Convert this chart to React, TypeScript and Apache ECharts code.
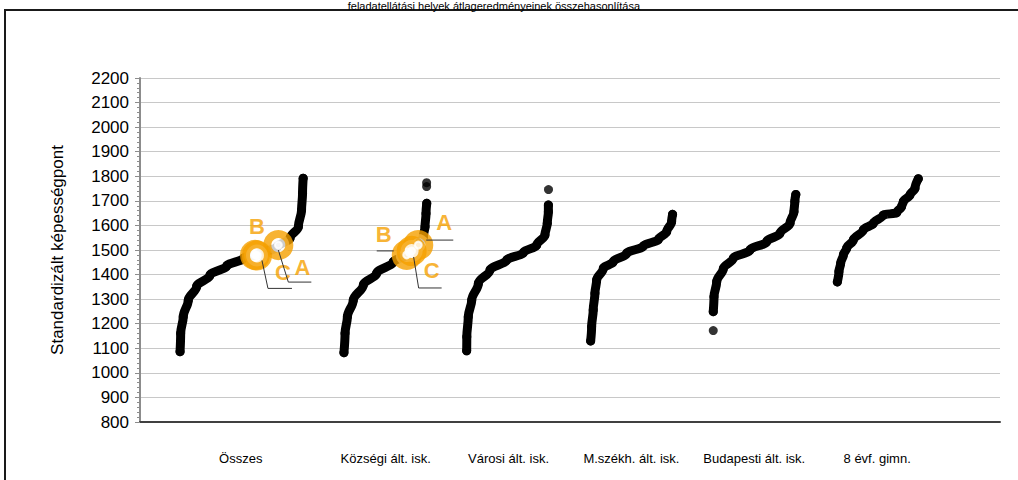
import React, { useEffect, useRef } from "react";
import * as echarts from "echarts";

// ---------- text ----------
const TITLE = "feladatellátási helyek átlageredményeinek összehasonlítása";
const Y_NAME = "Standardizált képességpont";
const CATEGORIES = [
  "Összes",
  "Községi ált. isk.",
  "Városi ált. isk.",
  "M.székh. ált. isk.",
  "Budapesti ált. isk.",
  "8 évf. gimn.",
];
// position of each category label on the (hidden) value x axis
const CATEGORY_POS = [0.82, 2, 3, 4, 5, 6];

// ---------- axis ----------
const Y_MIN = 800;
const Y_MAX = 2200;
const Y_STEP = 100;
const X_MIN = 0;
const X_MAX = 7;

// ---------- data: [x position, standardised score] ----------
const osszes = [
  [0.326, 1086], [0.331, 1161], [0.352, 1228], [0.393, 1296], [0.461, 1351],
  [0.57, 1398], [0.706, 1435], [0.841, 1466], [0.977, 1486], [1.113, 1511],
  [1.221, 1548], [1.289, 1595], [1.315, 1663], [1.323, 1731], [1.328, 1792],
];
const kozsegi = [
  [1.66, 1082], [1.669, 1161], [1.688, 1228], [1.736, 1296], [1.818, 1358],
  [1.926, 1405], [2.062, 1452], [2.171, 1480], [2.265, 1520], [2.306, 1554],
  [2.32, 1595], [2.328, 1649], [2.334, 1690],
];
const kozsegiOut = [[2.333, 1758], [2.333, 1774]];
const varosi = [
  [2.659, 1090], [2.66, 1147], [2.672, 1228], [2.7, 1296], [2.754, 1364],
  [2.849, 1419], [2.985, 1459], [3.12, 1489], [3.229, 1520], [3.296, 1561],
  [3.315, 1609], [3.324, 1656], [3.324, 1683],
];
const varosiOut = [[3.325, 1746]];
const mszekh = [
  [3.668, 1130], [3.676, 1188], [3.689, 1256], [3.703, 1324], [3.717, 1378],
  [3.771, 1425], [3.852, 1452], [3.961, 1486], [4.097, 1516], [4.219, 1543],
  [4.287, 1574], [4.327, 1615], [4.335, 1645],
];
const budapest = [
  [4.666, 1249], [4.672, 1310], [4.694, 1371], [4.748, 1425], [4.829, 1466],
  [4.965, 1500], [5.101, 1534], [5.209, 1568], [5.291, 1609], [5.323, 1656],
  [5.33, 1697], [5.338, 1726],
];
const budapestOut = [[4.666, 1172]];
const gimn8 = [
  [5.676, 1370], [5.689, 1412], [5.703, 1446], [5.725, 1480], [5.752, 1507],
  [5.806, 1541], [5.887, 1581], [5.969, 1609], [6.05, 1642], [6.159, 1652],
  [6.199, 1677], [6.213, 1697], [6.267, 1724], [6.308, 1751], [6.335, 1790],
];

// highlighted points A, B, C
const MARK_NAMES = ["A", "B", "C", "A", "B", "C"];
const MARK_X = [1.126, 0.936, 0.952, 2.265, 2.171, 2.211];
const MARK_Y = [1520, 1480, 1478, 1520, 1480, 1496];

// ---------- layout (pixels, relative to each marker) ----------
const LABEL_OFFSETS = [[24, 22], [2, -28], [26, 17], [26, -23], [-23, -20], [20, 20]];
const LEADERS: (number[][] | null)[] = [
  [[0, 5], [10, 37], [33, 37]],
  null,
  [[5, 5], [11, 33], [35, 33]],
  [[8, -5], [35, -5]],
  [[-30, -4], [-13, -4]],
  [[2, 6], [7, 37], [30, 37]],
];

const ORANGE = "#F5A000";
const FONT = "'Liberation Sans', Arial, Helvetica, sans-serif";

export default function App() {
  const ref = useRef<HTMLDivElement>(null);

  useEffect(() => {
    const chart = echarts.init(ref.current!, null, { renderer: "svg" });

    const curve = (name: string, pts: number[][]) => ({
      name,
      type: "line",
      data: pts,
      symbol: "circle",
      symbolSize: 9,
      showSymbol: true,
      showAllSymbol: true,
      smooth: 0.35,
      smoothMonotone: "y",
      itemStyle: { color: "#000" },
      lineStyle: { color: "#000", width: 9, cap: "round", join: "round" },
      silent: true,
      z: 2,
    });
    const dots = (name: string, pts: number[][]) => ({
      name,
      type: "scatter",
      data: pts,
      symbol: "circle",
      symbolSize: 9,
      itemStyle: { color: "#000" },
      silent: true,
      z: 2,
    });

    const markData = MARK_X.map((x, i) => ({
      name: MARK_NAMES[i],
      value: [x, MARK_Y[i]],
      label: { offset: LABEL_OFFSETS[i] },
    }));

    const frameAndTitle = [
      {
        id: "frame",
        type: "rect",
        shape: { x: 5, y: 10, width: 1040, height: 520 },
        style: { fill: "none", stroke: "#1a1a1a", lineWidth: 2 },
        z: 0,
      },
      {
        id: "title",
        type: "text",
        x: 640,
        y: 0,
        style: {
          text: TITLE,
          fontSize: 11,
          fontFamily: FONT,
          fill: "#000",
          align: "right",
          verticalAlign: "top",
        },
      },
    ];

    chart.setOption({
      animation: false,
      backgroundColor: "#fff",
      grid: { left: 140, right: 18, top: 78, bottom: 58 },
      xAxis: {
        type: "value",
        min: X_MIN,
        max: X_MAX,
        splitLine: { show: false },
        axisTick: { show: false },
        axisLine: { show: true, lineStyle: { color: "#404040", width: 2 } },
        axisLabel: {
          customValues: CATEGORY_POS,
          margin: 30,
          fontSize: 13,
          fontFamily: FONT,
          color: "#000",
          formatter: (v: number) => {
            let best = 0;
            CATEGORY_POS.forEach((p, i) => {
              if (Math.abs(p - v) < Math.abs(CATEGORY_POS[best] - v)) best = i;
            });
            return CATEGORIES[best];
          },
        },
      },
      yAxis: {
        type: "value",
        min: Y_MIN,
        max: Y_MAX,
        interval: Y_STEP,
        name: Y_NAME,
        nameLocation: "middle",
        nameGap: 74,
        nameTextStyle: { fontSize: 17, fontFamily: FONT, color: "#000" },
        axisLine: { show: true, lineStyle: { color: "#8c8c8c", width: 2 } },
        axisTick: { show: true, length: 5, lineStyle: { color: "#8c8c8c" } },
        minorTick: { show: true, splitNumber: 5, length: 3, lineStyle: { color: "#8c8c8c" } },
        splitLine: { show: true, lineStyle: { color: "#c8c8c8", width: 1 } },
        axisLabel: {
          fontSize: 17,
          fontFamily: FONT,
          color: "#000",
          margin: 11,
          formatter: (v: number) => String(v),
        },
      },
      graphic: frameAndTitle,
      series: [
        curve("Összes", osszes),
        curve("Községi ált. isk.", kozsegi),
        dots("Községi ált. isk. (egyedi)", kozsegiOut),
        curve("Városi ált. isk.", varosi),
        dots("Városi ált. isk. (egyedi)", varosiOut),
        curve("M.székh. ált. isk.", mszekh),
        curve("Budapesti ált. isk.", budapest),
        dots("Budapesti ált. isk. (egyedi)", budapestOut),
        curve("8 évf. gimn.", gimn8),
        {
          name: "Kiemelt",
          type: "scatter",
          data: markData,
          symbol: "circle",
          symbolSize: 22,
          itemStyle: { color: "#fff", borderColor: ORANGE, borderWidth: 8 },
          label: {
            show: true,
            position: "inside",
            formatter: "{b}",
            fontSize: 22,
            fontWeight: "bold",
            fontFamily: FONT,
            color: ORANGE,
          },
          silent: true,
          z: 5,
        },
        {
          name: "Kiemelt pont",
          type: "scatter",
          data: MARK_X.map((x, i) => [x, MARK_Y[i]]),
          symbol: "emptyCircle",
          symbolSize: 7,
          itemStyle: { color: "#fff", borderColor: "#000", borderWidth: 2.5 },
          silent: true,
          z: 6,
        },
      ],
    });

    // leader lines, positioned from the markers' own pixel coordinates
    const leaderGraphics: any[] = [];
    MARK_X.forEach((x, i) => {
      const pts = LEADERS[i];
      if (!pts) return;
      const p = chart.convertToPixel({ seriesIndex: 9 }, [x, MARK_Y[i]]) as number[];
      leaderGraphics.push({
        id: "leader" + i,
        type: "polyline",
        shape: { points: pts.map(([dx, dy]) => [p[0] + dx, p[1] + dy]) },
        style: { fill: "none", stroke: "#333", lineWidth: 1 },
        z: 100,
      });
    });
    chart.setOption({ graphic: [...frameAndTitle, ...leaderGraphics] });

    return () => chart.dispose();
  }, []);

  return (
    <div
      ref={ref}
      style={{ position: "fixed", left: 0, top: 0, width: 1018, height: 480 }}
    />
  );
}
